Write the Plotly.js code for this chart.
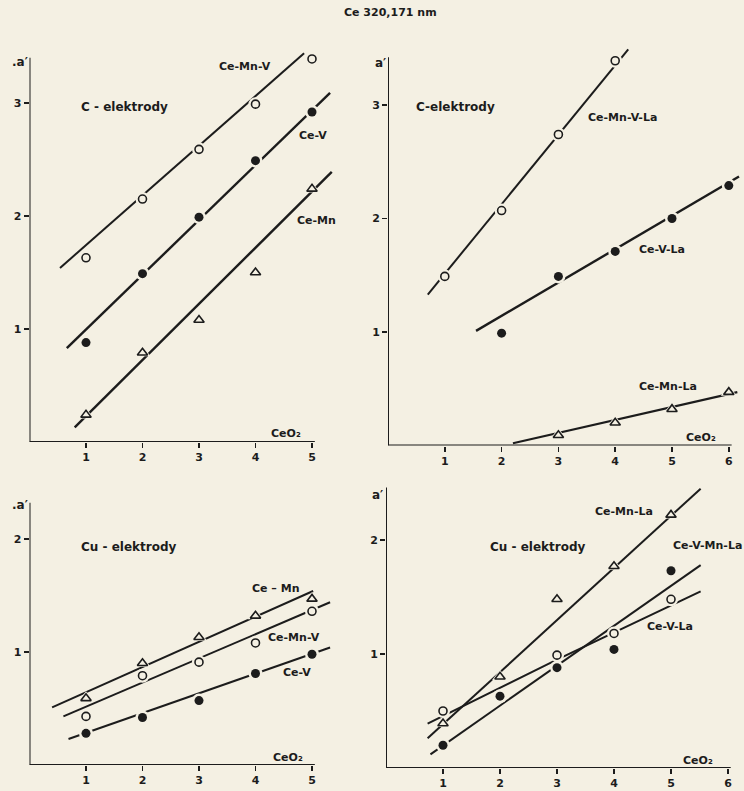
<!DOCTYPE html>
<html>
<head>
<meta charset="utf-8">
<script src="https://cdn.plot.ly/plotly-3.0.1.min.js"></script>
<style>
  html, body { margin: 0; padding: 0; background: #f4f0e3; }
  #chart { width: 744px; height: 791px; }
</style>
</head>
<body>
<div id="chart"></div>
<script>
// ---------- DATA ----------
// x values: CeO2 content
const xTicks5 = [1, 2, 3, 4, 5];
const xTicks6 = [1, 2, 3, 4, 5, 6];
const xTickLabels5 = ["1", "2", "3", "4", "5"];
const xTickLabels6 = ["1", "2", "3", "4", "5", "6"];
const yTicksTop = [1, 2, 3];
const yTicksBottom = [1, 2];

// Panel 1: C-elektrody (top left)
const p1X = [1, 2, 3, 4, 5];
const p1CeMnV = [1.63, 2.15, 2.59, 2.99, 3.39];
const p1CeV   = [0.88, 1.49, 1.99, 2.49, 2.92];
const p1CeMn  = [0.24, 0.79, 1.08, 1.50, 2.24];
const p1FitCeMnVX = [0.54, 4.86], p1FitCeMnVY = [1.54, 3.44];
const p1FitCeVX   = [0.66, 5.32], p1FitCeVY   = [0.83, 3.09];
const p1FitCeMnX  = [0.80, 5.35], p1FitCeMnY  = [0.13, 2.39];

// Panel 2: C-elektrody (top right)
const p2XMnVLa = [1, 2, 3, 4];
const p2CeMnVLa = [1.49, 2.07, 2.74, 3.39];
const p2XVLa = [2, 3, 4, 5, 6];
const p2CeVLa = [0.99, 1.49, 1.71, 2.00, 2.29];
const p2XMnLa = [3, 4, 5, 6];
const p2CeMnLa = [0.09, 0.20, 0.32, 0.47];
const p2FitCeMnVLaX = [0.70, 4.23], p2FitCeMnVLaY = [1.33, 3.49];
const p2FitCeVLaX   = [1.55, 6.18], p2FitCeVLaY   = [1.01, 2.37];
const p2FitCeMnLaX  = [2.20, 6.15], p2FitCeMnLaY  = [0.02, 0.47];

// Panel 3: Cu-elektrody (bottom left)
const p3X = [1, 2, 3, 4, 5];
const p3CeMn  = [0.59, 0.90, 1.13, 1.32, 1.47];
const p3CeMnV = [0.43, 0.79, 0.91, 1.08, 1.36];
const p3CeV   = [0.28, 0.42, 0.57, 0.81, 0.98];
const p3FitCeMnX  = [0.40, 5.02], p3FitCeMnY  = [0.51, 1.54];
const p3FitCeMnVX = [0.60, 5.32], p3FitCeMnVY = [0.43, 1.44];
const p3FitCeVX   = [0.69, 5.32], p3FitCeVY   = [0.23, 1.04];

// Panel 4: Cu-elektrody (bottom right)
const p4X = [1, 2, 3, 4, 5];
const p4CeMnLa   = [0.39, 0.80, 1.48, 1.77, 2.22];
const p4CeVMnLa  = [0.20, 0.63, 0.88, 1.04, 1.73];
const p4XVLa = [1, 3, 4, 5];
const p4CeVLa    = [0.50, 0.99, 1.18, 1.48];
const p4FitCeMnLaX  = [0.73, 5.52], p4FitCeMnLaY  = [0.26, 2.45];
const p4FitCeVMnLaX = [0.78, 5.52], p4FitCeVMnLaY = [0.12, 1.78];
const p4FitCeVLaX   = [0.73, 3.00, 5.52], p4FitCeVLaY = [0.39, 0.95, 1.55];

// ---------- STYLE ----------
const BG = "#f4f0e3";
const INK = "#1c1c1c";
const FONT = "DejaVu Sans";

const traces = [];
const lineTraces = [], gapTraces = [], markTraces = [];

function addSeries(ax, xs, ys, fx, fy, kind, lw) {
  const xa = "x" + (ax === 1 ? "" : ax), ya = "y" + (ax === 1 ? "" : ax);
  lineTraces.push({ x: fx, y: fy, xaxis: xa, yaxis: ya, mode: "lines",
    line: { color: INK, width: lw || 2 }, hoverinfo: "skip", showlegend: false });
  gapTraces.push({ x: xs, y: ys, xaxis: xa, yaxis: ya, mode: "markers",
    marker: { symbol: kind === "tri" ? "triangle-up" : "circle", size: 14, color: BG },
    hoverinfo: "skip", showlegend: false });
  let marker;
  if (kind === "open") marker = { symbol: "circle", size: 8, color: BG, line: { color: INK, width: 1.6 } };
  else if (kind === "filled") marker = { symbol: "circle", size: 9, color: INK, line: { color: INK, width: 0 } };
  else marker = { symbol: "triangle-up", size: 9, color: BG, line: { color: INK, width: 1.6 } };
  markTraces.push({ x: xs, y: ys, xaxis: xa, yaxis: ya, mode: "markers", marker: marker, showlegend: false });
}

addSeries(1, p1X, p1CeMnV, p1FitCeMnVX, p1FitCeMnVY, "open");
addSeries(1, p1X, p1CeV, p1FitCeVX, p1FitCeVY, "filled", 2.4);
addSeries(1, p1X, p1CeMn, p1FitCeMnX, p1FitCeMnY, "tri", 2.4);

addSeries(2, p2XMnVLa, p2CeMnVLa, p2FitCeMnVLaX, p2FitCeMnVLaY, "open");
addSeries(2, p2XVLa, p2CeVLa, p2FitCeVLaX, p2FitCeVLaY, "filled", 2.4);
addSeries(2, p2XMnLa, p2CeMnLa, p2FitCeMnLaX, p2FitCeMnLaY, "tri", 2.2);

addSeries(3, p3X, p3CeMn, p3FitCeMnX, p3FitCeMnY, "tri");
addSeries(3, p3X, p3CeMnV, p3FitCeMnVX, p3FitCeMnVY, "open");
addSeries(3, p3X, p3CeV, p3FitCeVX, p3FitCeVY, "filled");

addSeries(4, p4X, p4CeMnLa, p4FitCeMnLaX, p4FitCeMnLaY, "tri");
addSeries(4, p4X, p4CeVMnLa, p4FitCeVMnLaX, p4FitCeVMnLaY, "filled");
addSeries(4, p4XVLa, p4CeVLa, p4FitCeVLaX, p4FitCeVLaY, "open");

traces.push(...lineTraces, ...gapTraces, ...markTraces);

// ---------- LAYOUT ----------
const W = 744, H = 791;
const px = v => v / W;
const py = v => 1 - v / H;

function xAxis(domain, range, tickvals, ticktext, anchor) {
  return { domain: domain, range: range, anchor: anchor, tickvals: tickvals, ticktext: ticktext,
    ticks: "outside", ticklen: 5, tickwidth: 1.6, tickcolor: INK,
    showgrid: false, zeroline: false, showline: false, fixedrange: true,
    tickfont: { family: FONT, size: 11, color: INK, weight: "bold" } };
}
function yAxis(domain, range, tickvals, anchor) {
  return { domain: domain, range: range, anchor: anchor, tickvals: tickvals,
    ticks: "outside", ticklen: 5, tickwidth: 1.6, tickcolor: INK,
    showgrid: false, zeroline: false, showline: false, fixedrange: true,
    tickfont: { family: FONT, size: 11, color: INK, weight: "bold" } };
}

const layout = {
  width: W, height: H,
  margin: { l: 0, r: 0, t: 0, b: 0 },
  paper_bgcolor: BG, plot_bgcolor: "rgba(0,0,0,0)",
  showlegend: false,
  xaxis:  xAxis([px(29.5), px(29.5 + 5.4 * 56.5)], [0, 5.4], xTicks5, xTickLabels5, "y"),
  yaxis:  yAxis([py(442), py(442 - 3.5 * 113)], [0, 3.5], yTicksTop, "x"),
  xaxis2: xAxis([px(388), px(388 + 6.2 * 56.8)], [0, 6.2], xTicks6, xTickLabels6, "y2"),
  yaxis2: yAxis([py(445.5), py(445.5 - 3.55 * 113.5)], [0, 3.55], yTicksTop, "x2"),
  xaxis3: xAxis([px(29.5), px(29.5 + 5.4 * 56.5)], [0, 5.4], xTicks5, xTickLabels5, "y3"),
  yaxis3: yAxis([py(765), py(765 - 2.45 * 113)], [0, 2.45], yTicksBottom, "x3"),
  xaxis4: xAxis([px(386), px(386 + 6.05 * 57)], [0, 6.05], xTicks6, xTickLabels6, "y4"),
  yaxis4: yAxis([py(768), py(768 - 2.6 * 114)], [0, 2.6], yTicksBottom, "x4"),
  shapes: [],
  annotations: []
};

// axis lines
function axisLines(n, xEnd, yEnd) {
  const xr = "x" + (n === 1 ? "" : n), yr = "y" + (n === 1 ? "" : n);
  layout.shapes.push({ type: "line", xref: xr, yref: yr, x0: 0, y0: 0, x1: xEnd, y1: 0, line: { color: INK, width: 2 } });
  layout.shapes.push({ type: "line", xref: xr, yref: yr, x0: 0, y0: 0, x1: 0, y1: yEnd, line: { color: INK, width: 2 } });
}
axisLines(1, 5.05, 3.40);
axisLines(2, 6.05, 3.42);
axisLines(3, 5.05, 2.32);
axisLines(4, 6.05, 2.46);

function label(text, x, y, size, anchor) {
  layout.annotations.push({ text: text, xref: "paper", yref: "paper", x: px(x), y: py(y),
    xanchor: anchor || "center", yanchor: "middle", showarrow: false,
    font: { family: FONT, size: size || 11, color: INK, weight: "bold" } });
}

const Y_LABEL_DOT = ".a\u2032";
const Y_LABEL = "a\u2032";
const CEO2 = "CeO\u2082";

label("Ce 320,171 nm", 390, 13, 11);

label(Y_LABEL_DOT, 20, 62, 12);
label("C - elektrody", 125, 107, 12);
label("Ce-Mn-V", 245, 67, 11);
label("Ce-V", 313, 135, 11);
label("Ce-Mn", 316, 220, 11);
label(CEO2, 286, 433, 11);

label(Y_LABEL, 380, 63, 12);
label("C-elektrody", 455, 107, 12);
label("Ce-Mn-V-La", 622, 117, 11);
label("Ce-V-La", 662, 249, 11);
label("Ce-Mn-La", 668, 386, 11);
label(CEO2, 701, 437, 11);

label(Y_LABEL_DOT, 20, 505, 12);
label("Cu - elektrody", 129, 547, 12);
label("Ce – Mn", 275, 588, 11);
label("Ce-Mn-V", 294, 637, 11);
label("Ce-V", 297, 672, 11);
label(CEO2, 288, 757, 11);

label(Y_LABEL, 377, 495, 12);
label("Cu - elektrody", 538, 547, 12);
label("Ce-Mn-La", 624, 511, 11);
label("Ce-V-Mn-La", 744, 545, 11, "right");
label("Ce-V-La", 670, 626, 11);
label(CEO2, 698, 760, 11);

Plotly.newPlot("chart", traces, layout, { staticPlot: true, displayModeBar: false });
</script>
</body>
</html>
